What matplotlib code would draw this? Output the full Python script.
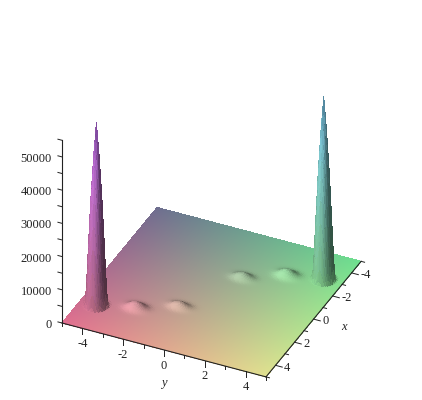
import numpy as np
import matplotlib
matplotlib.use("Agg")
import matplotlib.pyplot as plt
from mpl_toolkits.mplot3d import proj3d

# ---- values ----
x_ticks = [-4, -2, 0, 2, 4]
y_ticks = [-4, -2, 0, 2, 4]
z_ticks = [0, 10000, 20000, 30000, 40000, 50000]
x_minor = [-5, -3, -1, 1, 3, 5]
y_minor = [-5, -3, -1, 1, 3, 5]
z_minor = [5000, 15000, 25000, 35000, 45000, 55000]

spike_x = [3.1, -3.0]
spike_y = [-4.2, 4.1]
spike_radius = [0.0, 0.10, 0.25, 0.36, 0.46, 0.52]
spike_height = [55000, 47000, 32000, 17000, 3500, 0]

bump_x = [2.55, 1.65, -1.6, -2.6]
bump_y = [-2.5, -0.8, 0.8, 2.5]
bump_height = [1900, 1500, 1500, 1900]
bump_wx = [0.2, 0.18, 0.18, 0.2]
bump_wy = [0.3, 0.3, 0.3, 0.3]

x_range = [-5, 5]
y_range = [-5, 5]
z_range = [0, 55000]

plt.rcParams['font.family'] = ['Liberation Serif', 'DejaVu Sans']

# ---- surface ----
gx = np.linspace(x_range[0], x_range[1], 201)
gy = np.linspace(y_range[0], y_range[1], 201)
X, Y = np.meshgrid(gx, gy, indexing='ij')
Z = np.zeros_like(X)
for cx, cy in zip(spike_x, spike_y):
    r = np.hypot(X - cx, Y - cy)
    Z += np.interp(r, spike_radius, spike_height)
for cx, cy, h, wx, wy in zip(bump_x, bump_y, bump_height, bump_wx, bump_wy):
    Z += h * np.exp(-((X - cx) / wx) ** 2 / 2 - ((Y - cy) / wy) ** 2 / 2)

AZ, EL = 25.0, 34.5
zscale = 10.0 / (z_range[1] - z_range[0])
dx = gx[1] - gx[0]
dy = gy[1] - gy[0]
Zs = Z * zscale
dzdx = np.zeros_like(Z)
dzdy = np.zeros_like(Z)
dzdx[:-1, :-1] = (Zs[1:, :-1] - Zs[:-1, :-1] + Zs[1:, 1:] - Zs[:-1, 1:]) / (2 * dx)
dzdy[:-1, :-1] = (Zs[:-1, 1:] - Zs[:-1, :-1] + Zs[1:, 1:] - Zs[1:, :-1]) / (2 * dy)
nz = 1.0 / np.sqrt(dzdx ** 2 + dzdy ** 2 + 1)
nx, ny = -dzdx * nz, -dzdy * nz
a = np.radians(AZ)
e = np.radians(EL)
viewer = np.array([np.cos(a), np.sin(a)])
left = np.array([np.sin(a), -np.cos(a)])
lxy = 0.71 * (0.6 * viewer + 0.8 * left)
lz = 0.70
lit = np.clip(nx * lxy[0] + ny * lxy[1] + nz * lz, 0, None)
# soften the facet-to-facet lighting steps, as smooth shading does
padded = np.pad(lit, 2, mode='edge')
lit = np.lib.stride_tricks.sliding_window_view(padded, (5, 5)).mean(axis=(2, 3))
shade = (0.42 + 0.83 * lit) * (1 - 0.13 * np.minimum(Z / 4000, 1) * (1 - Z / z_range[1]))

R = 0.43 + 0.45 * (X + 5) / 10
G = 0.43 + 0.45 * (Y + 5) / 10
B = 0.56 + 0.42 * Z / z_range[1]
facing = nx * np.cos(e) * viewer[0] + ny * np.cos(e) * viewer[1] + nz * np.sin(e)
alpha = np.where(facing < 0, 0.0, 1.0)
colors = np.clip(np.dstack([R * shade, G * shade, B * shade, alpha]), 0, 1)

# ---- figure ----
fig = plt.figure(figsize=(4.22, 4.0), dpi=100)
ax = fig.add_axes([0, 0, 1, 1], projection='3d', computed_zorder=False)
ax.set_proj_type('ortho')
ax.view_init(elev=EL, azim=AZ)
ax.set_box_aspect((1, 1, 0.985))

ax.plot_surface(X, Y, Z, facecolors=colors, rstride=1, cstride=1, shade=False,
                linewidth=0, antialiased=False, zorder=1)

ink = '#222222'
xe, ye = x_range[1], y_range[1]
ax.plot([xe, xe], [y_range[0], y_range[1]], [0, 0], color=ink, lw=0.8, zorder=3)
ax.plot([x_range[0], x_range[1]], [ye, ye], [0, 0], color=ink, lw=0.8, zorder=3)
ax.plot([xe, xe], [y_range[0], y_range[0]], z_range, color=ink, lw=0.8, zorder=3)

for v in y_ticks:
    ax.plot([xe, xe], [v, v], [0, -1800], color=ink, lw=0.7, zorder=3)
for v in y_minor:
    ax.plot([xe, xe], [v, v], [0, -900], color=ink, lw=0.7, zorder=3)
for v in x_ticks:
    ax.plot([v, v], [ye, ye + 0.33], [0, 0], color=ink, lw=0.7, zorder=3)
for v in x_minor:
    ax.plot([v, v], [ye, ye + 0.17], [0, 0], color=ink, lw=0.7, zorder=3)
for v in z_ticks + z_minor:
    ax.plot([xe, xe], [y_range[0], y_range[0] - 0.2], [v, v], color=ink, lw=0.7, zorder=3)

ax.set_xlim(*x_range)
ax.set_ylim(*y_range)
ax.set_zlim(*z_range)
ax.set_xticks([])
ax.set_yticks([])
ax.set_zticks([])
ax.set_axis_off()

# place the axes so that the floor corners land where the reference has them
fig.canvas.draw()
M = ax.get_proj()
W, H = fig.canvas.get_width_height()


def to_view(px, py, pz):
    u, v, _ = proj3d.proj_transform(px, py, pz, M)
    return u, v


def to_unit(px, py, pz):
    return ax.transAxes.inverted().transform(ax.transData.transform(to_view(px, py, pz)))


cl = to_unit(5, -5, 0)
cf = to_unit(5, 5, 0)
size = 204.0 / (cf[0] - cl[0])
ax_l = 62.0 - size * cl[0]
ax_b = (400.0 - 323.0) - size * cl[1]
ax.set_position([ax_l / W, ax_b / H, size / W, size / H])


def label(px, py, pz, s, **kw):
    u, v = to_view(px, py, pz)
    ax.text2D(u, v, s, transform=ax.transData, va='center', fontsize=9, color=ink,
              clip_on=False, **kw)


for v in y_ticks:
    label(xe, v, -4700, str(v), ha='center')
for v in x_ticks:
    label(v, ye + 0.42, 0, str(v), ha='left')
for v in z_ticks:
    label(xe, y_range[0] - 0.5, v - 1400, str(v), ha='right')
label(xe, 0, -10000, 'y', style='italic', ha='center')
label(0, ye + 1.5, 0, 'x', style='italic', ha='center')

fig.savefig('out.png', dpi=100, facecolor='white')
